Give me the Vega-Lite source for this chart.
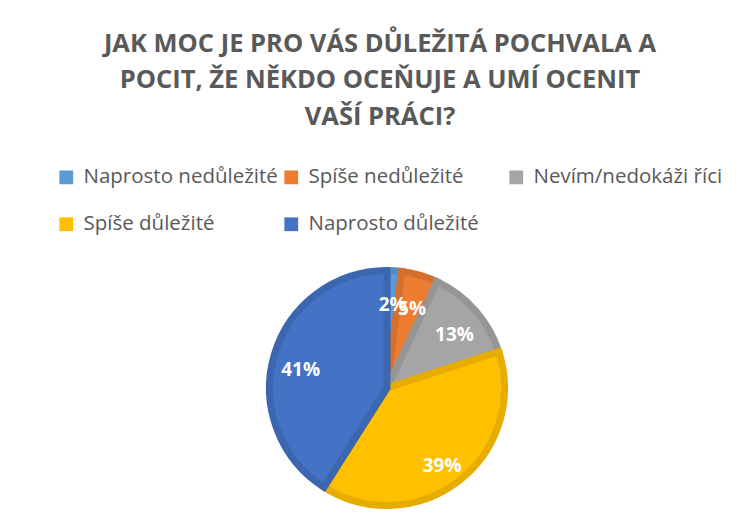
{
  "$schema": "https://vega.github.io/schema/vega-lite/v6.json",
  "autosize": "none",
  "padding": {"left": 8, "top": 14, "right": 0, "bottom": 0},
  "width": 758,
  "height": 748,
  "background": "white",
  "config": {
    "view": {"stroke": "#D9D9D9", "strokeWidth": 2},
    "font": "Open Sans"
  },
  "title": {
    "text": ["JAK MOC JE PRO VÁS DŮLEŽITÁ POCHVALA A", "POCIT, ŽE NĚKDO OCEŇUJE A UMÍ OCENIT", "VAŠÍ PRÁCI?"],
    "font": "Open Sans",
    "fontSize": 25.5,
    "fontWeight": "bold",
    "color": "#595959",
    "lineHeight": 36.5,
    "anchor": "middle",
    "baseline": "top",
    "offset": -116,
    "dx": -7
  },
  "data": {
    "values": [
      {"kategorie": "Naprosto nedůležité", "podil": 2, "poradi": 1, "popisek": "2%"},
      {"kategorie": "Spíše nedůležité", "podil": 5, "poradi": 2, "popisek": "5%"},
      {"kategorie": "Nevím/nedokáži říci", "podil": 13, "poradi": 3, "popisek": "13%"},
      {"kategorie": "Spíše důležité", "podil": 39, "poradi": 4, "popisek": "39%"},
      {"kategorie": "Naprosto důležité", "podil": 41, "poradi": 5, "popisek": "41%"}
    ]
  },
  "encoding": {
    "theta": {"field": "podil", "type": "quantitative", "stack": true},
    "order": {"field": "poradi", "type": "quantitative"}
  },
  "layer": [
    {
      "mark": {"type": "arc", "outerRadius": 117.5, "strokeWidth": 7, "strokeJoin": "miter"},
      "encoding": {
        "color": {
          "field": "kategorie",
          "type": "nominal",
          "sort": ["Naprosto nedůležité", "Spíše nedůležité", "Nevím/nedokáži říci", "Spíše důležité", "Naprosto důležité"],
          "scale": {"range": ["#5B9BD5", "#ED7D31", "#A5A5A5", "#FFC000", "#4472C4"]},
          "legend": {
            "orient": "none",
            "direction": "horizontal",
            "legendX": 48,
            "legendY": 153,
            "title": null,
            "columns": 3,
            "gridAlign": "all",
            "columnPadding": 3,
            "rowPadding": 26,
            "symbolType": "square",
            "symbolSize": 190,
            "symbolStrokeWidth": 0,
            "labelFont": "Open Sans",
            "labelFontSize": 20.5,
            "labelColor": "#595959",
            "labelOffset": 7,
            "labelLimit": 400,
            "padding": 0
          }
        },
        "stroke": {
          "field": "kategorie",
          "type": "nominal",
          "sort": ["Naprosto nedůležité", "Spíše nedůležité", "Nevím/nedokáži říci", "Spíše důležité", "Naprosto důležité"],
          "scale": {"range": ["#528CC0", "#D5702C", "#959595", "#E6AC00", "#3D66B0"]},
          "legend": null
        }
      }
    },
    {
      "mark": {"type": "text", "radius": 90, "dy": 7, "font": "Open Sans", "fontSize": 19, "fontWeight": "bold", "fill": "white"},
      "encoding": {
        "text": {"field": "popisek", "type": "nominal"}
      }
    }
  ]
}
